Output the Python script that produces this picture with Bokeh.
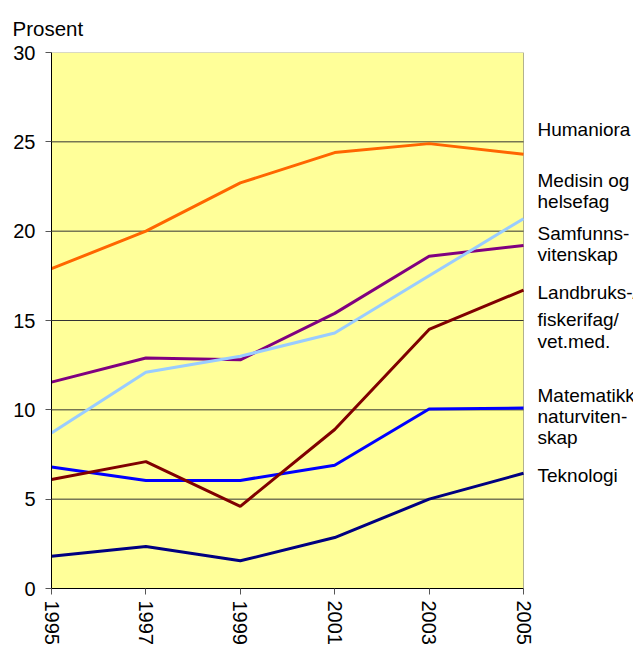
import math
from bokeh.plotting import figure
from bokeh.models import Label, Range1d, FixedTicker, BoxAnnotation, Title
from bokeh.embed import file_html
from bokeh.resources import INLINE

years = [1995, 1997, 1999, 2001, 2003, 2005]
humaniora = [17.9, 20.0, 22.7, 24.4, 24.9, 24.3]
medisin = [8.7, 12.1, 13.0, 14.3, 17.5, 20.7]
samfunn = [11.55, 12.9, 12.8, 15.4, 18.6, 19.2]
landbruk = [6.1, 7.1, 4.6, 8.9, 14.5, 16.7]
matematikk = [6.8, 6.05, 6.05, 6.9, 10.05, 10.1]
teknologi = [1.8, 2.35, 1.55, 2.85, 5.0, 6.45]

y_ticks = [0, 5, 10, 15, 20, 25, 30]
y_title = "Prosent"

series = [
    ("Teknologi", teknologi, "#000080"),
    ("Matematikk", matematikk, "#0000FF"),
    ("Landbruk", landbruk, "#800000"),
    ("Samfunn", samfunn, "#800080"),
    ("Medisin", medisin, "#99CCFF"),
    ("Humaniora", humaniora, "#FF6600"),
]

legend_lines = ["Humaniora", "Medisin og", "helsefag", "Samfunns-", "vitenskap",
                "Landbruks-/", "fiskerifag/", "vet.med.", "Matematikk/",
                "naturviten-", "skap", "Teknologi"]
# layout: vertical centre of each legend line (page px)
legend_centres = [129, 180, 201, 233, 254, 292, 319, 341, 395, 416, 437, 475]

FONT = "Liberation Sans"
W, H = 633, 651
LEFT, TOP, BOTTOM_PAD = 51, 52, 63
FRAME_W = W - LEFT
FRAME_H = H - TOP - BOTTOM_PAD
PLOT_W = 472  # width of the yellow plot area
x0, x1 = years[0], years[-1]
x_end = x0 + (x1 - x0) * FRAME_W / PLOT_W
FRAME_BOTTOM = TOP + FRAME_H

p = figure(frame_width=FRAME_W, frame_height=FRAME_H, min_border_left=LEFT, min_border_top=TOP,
           min_border_right=0, min_border_bottom=BOTTOM_PAD,
           x_range=Range1d(x0, x_end), y_range=Range1d(y_ticks[0], y_ticks[-1]),
           output_backend="svg", toolbar_location=None)
p.background_fill_color = "white"
p.border_fill_color = "white"
p.outline_line_color = None
p.xgrid.visible = False
p.ygrid.visible = False

p.add_layout(BoxAnnotation(left=x0, right=x1, bottom=y_ticks[0], top=y_ticks[-1],
                           fill_color="#FFFF99", fill_alpha=1.0,
                           line_color="black", line_width=1, level="underlay"))
grid_y = y_ticks[1:-1]
p.segment(x0=[x0] * len(grid_y), x1=[x1] * len(grid_y), y0=grid_y, y1=grid_y,
          line_color="#333333", line_width=1)

p.yaxis.ticker = FixedTicker(ticks=y_ticks)
p.xaxis.ticker = FixedTicker(ticks=years)
p.xaxis.bounds = (x0, x1)
for ax in (p.xaxis[0], p.yaxis[0]):
    ax.axis_line_color = "black"
    ax.major_tick_line_color = "#555555"
    ax.major_tick_out = 6
    ax.major_tick_in = 0
    ax.minor_tick_line_color = None
    ax.major_label_text_font = FONT
    ax.major_label_text_font_size = "20px"
    ax.major_label_text_color = "black"
p.yaxis.major_label_standoff = 10
p.xaxis.major_label_standoff = 6
p.xaxis.major_label_orientation = -math.pi / 2

for name, vals, col in series:
    p.line(years, vals, line_color=col, line_width=3)

p.add_layout(Title(text=y_title, align="left", offset=12 - LEFT, standoff=26, text_font=FONT,
                   text_font_size="20.5px", text_font_style="normal", text_color="black"), "above")

for txt, cy in zip(legend_lines, legend_centres):
    p.add_layout(Label(x=x1, x_offset=14, y=FRAME_BOTTOM - cy, x_units="data", y_units="screen",
                       text=txt, text_font=FONT, text_font_size="19px",
                       text_baseline="middle", text_color="black"))

open("out.html", "w").write(file_html(p, INLINE))
